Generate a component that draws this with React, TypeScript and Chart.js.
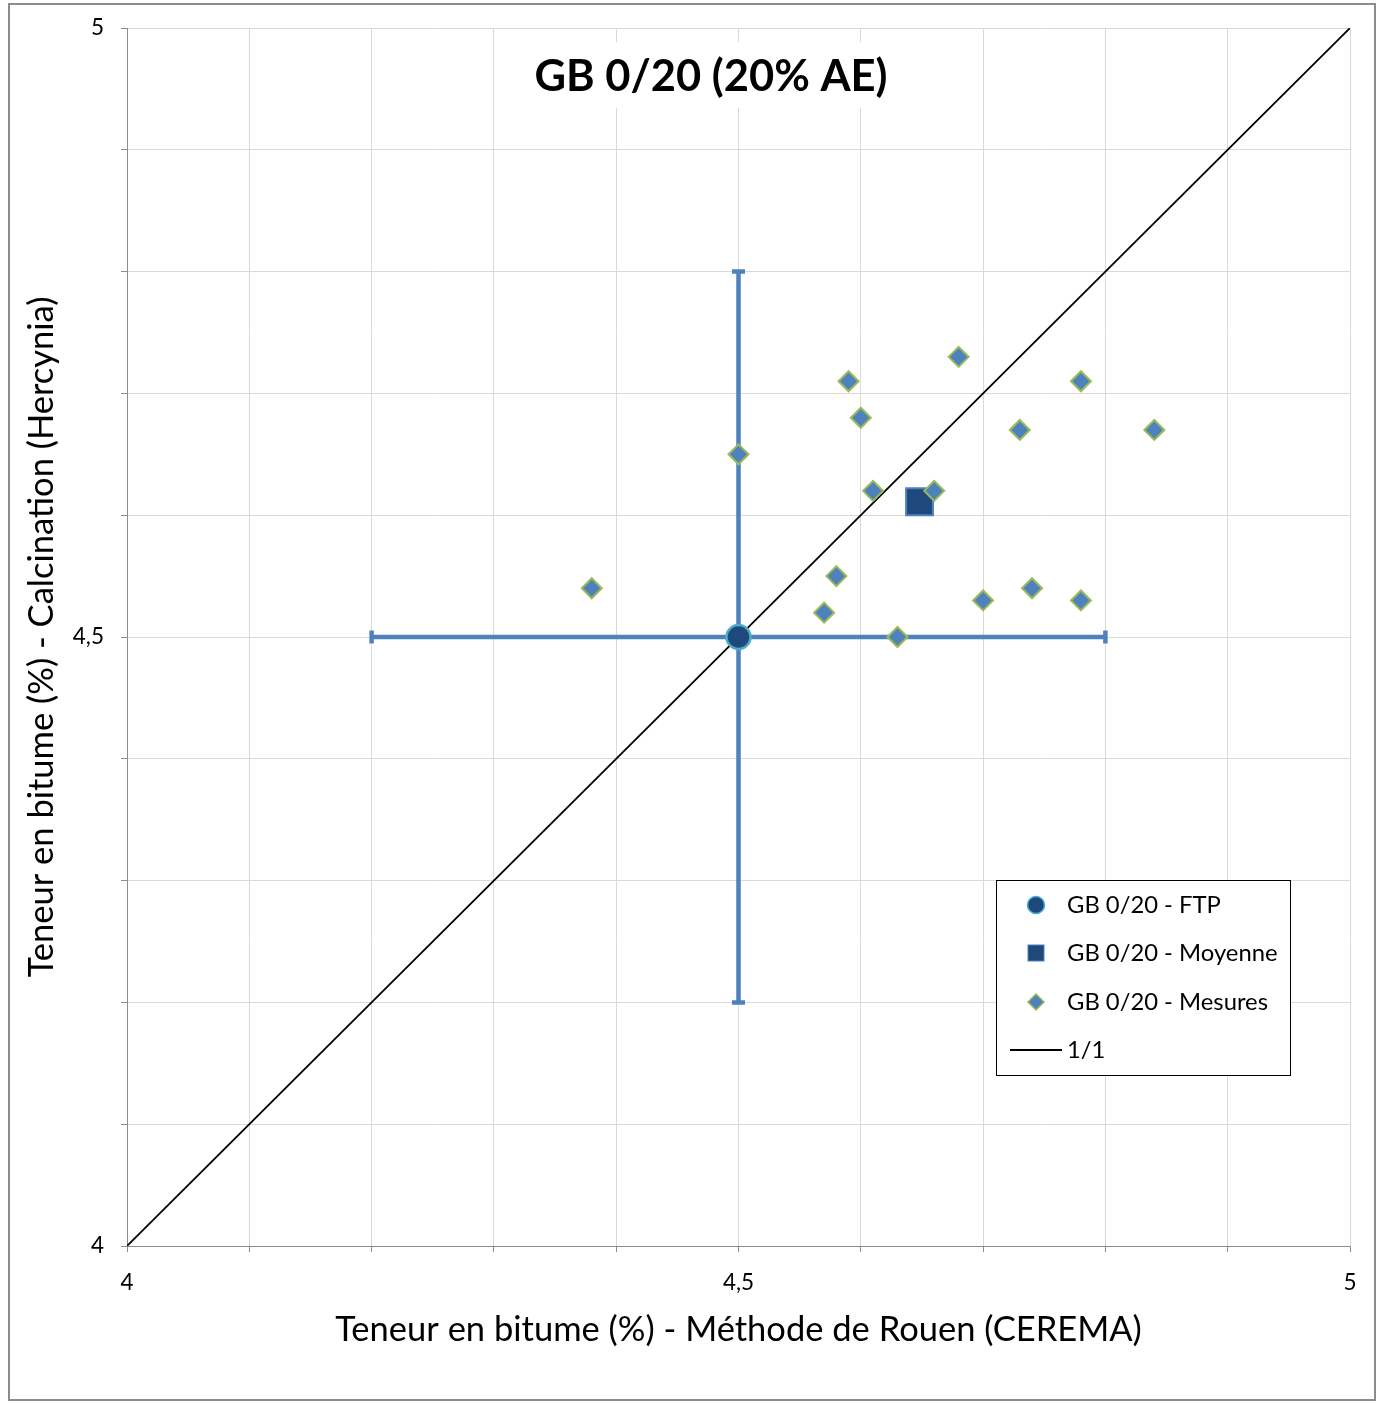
import React, { useEffect, useRef } from "react";
import { Chart, registerables } from "chart.js";

Chart.register(...registerables);

// ---- Data ----
const mesuresX = [4.38, 4.5, 4.59, 4.6, 4.61, 4.68, 4.73, 4.78, 4.84, 4.66, 4.58, 4.57, 4.63, 4.7, 4.74, 4.78];
const mesuresY = [4.54, 4.65, 4.71, 4.68, 4.62, 4.73, 4.67, 4.71, 4.67, 4.62, 4.55, 4.52, 4.5, 4.53, 4.54, 4.53];
const moyenneX = [4.648];
const moyenneY = [4.611];
const ftpX = [4.5];
const ftpY = [4.5];
const ftpErrX = [0.3];
const ftpErrY = [0.3];
const refLineX = [4, 5];
const refLineY = [4, 5];
const axisMin = 4;
const axisMax = 5;
const gridStep = 0.1;
const labeledTicks = [4, 4.5, 5];
const seriesNames = ["GB 0/20 - FTP", "GB 0/20 - Moyenne", "GB 0/20 - Mesures", "1/1"];
const titleText = "GB 0/20 (20% AE)";
const xTitleText = "Teneur en bitume (%) - Méthode de Rouen (CEREMA)";
const yTitleText = "Teneur en bitume (%) - Calcination (Hercynia)";

const FONT = "Lato, 'Open Sans', sans-serif";
const C_DARK = "#1f497d";
const C_BLUE = "#4f81bd";
const C_GREEN = "#9bbb59";
const C_CYAN = "#4bacc6";

const fmtTick = (v: number) => {
  const r = Math.round(v * 10) / 10;
  if (!labeledTicks.some((t) => Math.abs(t - r) < 1e-9)) return "";
  return String(r).replace(".", ",");
};

const errorBarsPlugin = {
  id: "errorBars",
  beforeDatasetsDraw(chart: any) {
    const { ctx } = chart;
    const xs = chart.scales.x;
    const ys = chart.scales.y;
    ctx.save();
    ctx.strokeStyle = C_BLUE;
    ctx.lineWidth = 4.5;
    ctx.lineCap = "butt";
    const cap = 6.5;
    for (let i = 0; i < ftpX.length; i++) {
      const cx = xs.getPixelForValue(ftpX[i]);
      const cy = ys.getPixelForValue(ftpY[i]);
      const x0 = xs.getPixelForValue(ftpX[i] - ftpErrX[i]);
      const x1 = xs.getPixelForValue(ftpX[i] + ftpErrX[i]);
      const y0 = ys.getPixelForValue(ftpY[i] - ftpErrY[i]);
      const y1 = ys.getPixelForValue(ftpY[i] + ftpErrY[i]);
      ctx.beginPath();
      ctx.moveTo(x0, cy);
      ctx.lineTo(x1, cy);
      ctx.moveTo(cx, y0);
      ctx.lineTo(cx, y1);
      // caps
      ctx.moveTo(x0, cy - cap);
      ctx.lineTo(x0, cy + cap);
      ctx.moveTo(x1, cy - cap);
      ctx.lineTo(x1, cy + cap);
      ctx.moveTo(cx - cap, y0);
      ctx.lineTo(cx + cap, y0);
      ctx.moveTo(cx - cap, y1);
      ctx.lineTo(cx + cap, y1);
      ctx.stroke();
    }
    ctx.restore();
  },
};

const decorPlugin = {
  id: "decor",
  afterDraw(chart: any) {
    const { ctx, chartArea } = chart;
    ctx.save();
    // Title with white backdrop
    const tcx = 711;
    const tcy = 77;
    ctx.font = `bold 43.5px ${FONT}`;
    const tw = ctx.measureText(titleText).width;
    ctx.fillStyle = "#ffffff";
    ctx.fillRect(tcx - tw / 2 - 12, 42, tw + 24, 66);
    ctx.fillStyle = "#000000";
    ctx.textAlign = "center";
    ctx.textBaseline = "middle";
    ctx.fillText(titleText, tcx, tcy);

    // Axis titles
    ctx.font = `34.5px ${FONT}`;
    ctx.fillText(xTitleText, (chartArea.left + chartArea.right) / 2, 1330);
    ctx.save();
    ctx.translate(42, (chartArea.top + chartArea.bottom) / 2);
    ctx.rotate(-Math.PI / 2);
    ctx.fillText(yTitleText, 0, 0);
    ctx.restore();

    // Legend
    const lx = 996.5;
    const ly = 880.5;
    const lw = 294;
    const lh = 195;
    ctx.fillStyle = "#ffffff";
    ctx.fillRect(lx, ly, lw, lh);
    ctx.strokeStyle = "#000000";
    ctx.lineWidth = 1;
    ctx.strokeRect(lx, ly, lw, lh);
    const mx = 1036;
    const rows = [905, 953, 1002, 1050];
    // circle
    ctx.beginPath();
    ctx.arc(mx, rows[0], 8.5, 0, Math.PI * 2);
    ctx.fillStyle = C_DARK;
    ctx.fill();
    ctx.strokeStyle = C_CYAN;
    ctx.lineWidth = 1.5;
    ctx.stroke();
    // square
    ctx.fillStyle = C_DARK;
    ctx.fillRect(mx - 8, rows[1] - 8, 16, 16);
    ctx.strokeStyle = C_BLUE;
    ctx.lineWidth = 1;
    ctx.strokeRect(mx - 8, rows[1] - 8, 16, 16);
    // diamond
    ctx.beginPath();
    ctx.moveTo(mx - 8, rows[2]);
    ctx.lineTo(mx, rows[2] - 8);
    ctx.lineTo(mx + 8, rows[2]);
    ctx.lineTo(mx, rows[2] + 8);
    ctx.closePath();
    ctx.fillStyle = C_BLUE;
    ctx.fill();
    ctx.strokeStyle = C_GREEN;
    ctx.lineWidth = 1.5;
    ctx.stroke();
    // line
    ctx.beginPath();
    ctx.moveTo(1010, rows[3]);
    ctx.lineTo(1062, rows[3]);
    ctx.strokeStyle = "#000000";
    ctx.lineWidth = 2;
    ctx.stroke();
    ctx.fillStyle = "#000000";
    ctx.font = `23.8px ${FONT}`;
    ctx.textAlign = "left";
    ctx.textBaseline = "middle";
    ctx.fillText(seriesNames[0], 1067, rows[0]);
    ctx.fillText(seriesNames[1], 1067, rows[1]);
    ctx.fillText(seriesNames[2], 1067, rows[2]);
    ctx.fillText(seriesNames[3], 1067, rows[3]);
    ctx.restore();
  },
};

export default function App() {
  const ref = useRef<HTMLCanvasElement | null>(null);
  useEffect(() => {
    if (!ref.current) return;
    const toPts = (xs: number[], ys: number[]) => xs.map((x, i) => ({ x, y: ys[i] }));
    const chart = new Chart(ref.current, {
      type: "scatter",
      data: {
        datasets: [
          {
            label: seriesNames[2],
            data: toPts(mesuresX, mesuresY),
            pointStyle: "rectRot",
            pointRadius: 10,
            backgroundColor: C_BLUE,
            borderColor: C_GREEN,
            borderWidth: 2,
          },
          {
            label: seriesNames[1],
            data: toPts(moyenneX, moyenneY),
            pointStyle: "rect",
            pointRadius: 19,
            backgroundColor: C_DARK,
            borderColor: C_BLUE,
            borderWidth: 2,
          },
          {
            label: seriesNames[0],
            data: toPts(ftpX, ftpY),
            pointStyle: "circle",
            pointRadius: 12,
            backgroundColor: C_DARK,
            borderColor: C_CYAN,
            borderWidth: 2.5,
          },
          {
            label: seriesNames[3],
            data: toPts(refLineX, refLineY),
            showLine: true,
            pointRadius: 0,
            borderColor: "#000000",
            borderWidth: 1.8,
            backgroundColor: "#000000",
          },
        ],
      },
      options: {
        responsive: false,
        animation: false,
        events: [],
        layout: { padding: { left: 0, top: 28, right: 29, bottom: 0 } },
        plugins: {
          legend: { display: false },
          tooltip: { enabled: false },
          title: { display: false },
        },
        scales: {
          x: {
            type: "linear",
            min: axisMin,
            max: axisMax,
            afterFit: (s: any) => {
              s.height = 158;
              s.paddingLeft = 0;
              s.paddingRight = 0;
            },
            ticks: {
              stepSize: gridStep,
              autoSkip: false,
              maxRotation: 0,
              padding: 17,
              color: "#000000",
              font: { family: FONT, size: 22.5 },
              callback: (v: any) => fmtTick(Number(v)),
            },
            grid: {
              color: "#d9d9d9",
              lineWidth: 1,
              tickColor: "#8c8c8c",
              tickLength: 6,
            },
            border: { color: "#8c8c8c", width: 1 },
          },
          y: {
            type: "linear",
            min: axisMin,
            max: axisMax,
            afterFit: (s: any) => {
              s.width = 127;
              s.paddingTop = 0;
              s.paddingBottom = 0;
            },
            ticks: {
              stepSize: gridStep,
              autoSkip: false,
              padding: 17,
              color: "#000000",
              font: { family: FONT, size: 22.5 },
              callback: (v: any) => fmtTick(Number(v)),
            },
            grid: {
              color: "#d9d9d9",
              lineWidth: 1,
              tickColor: "#8c8c8c",
              tickLength: 6,
            },
            border: { color: "#8c8c8c", width: 1 },
          },
        },
      },
      plugins: [errorBarsPlugin, decorPlugin],
    });
    return () => chart.destroy();
  }, []);

  return (
    <div style={{ position: "absolute", left: 0, top: 0, width: 1379, height: 1404, background: "#ffffff" }}>
      <canvas ref={ref} width={1379} height={1404} style={{ position: "absolute", left: 0, top: 0, display: "block" }} />
      <div
        style={{
          position: "absolute",
          left: 8,
          top: 3,
          width: 1368,
          height: 1398,
          boxSizing: "border-box",
          border: "2px solid #8c8c8c",
          pointerEvents: "none",
        }}
      />
    </div>
  );
}
